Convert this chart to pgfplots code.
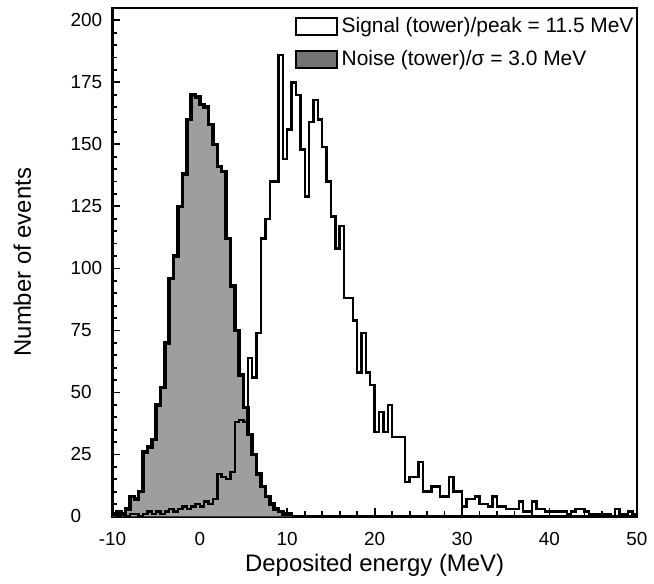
\documentclass[border=0pt]{standalone}
\usepackage{pgfplots}
\pgfplotsset{compat=1.18}
\usepackage{pgfplotstable}
\usepackage{fontspec}
\setmainfont{Liberation Sans}

% Noise histogram: left bin edge, count (bin width 0.5 MeV)
\pgfplotstableread{
x y
-10.0 0
-10.0 1
-9.5 2
-9.0 1
-8.5 3
-8.0 8
-7.5 7
-7.0 10
-6.5 26
-6.0 28
-5.5 31
-5.0 45
-4.5 52
-4.0 70
-3.5 96
-3.0 105
-2.5 125
-2.0 138
-1.5 160
-1.0 170
-0.5 169
0.0 166
0.5 165
1.0 158
1.5 150
2.0 141
2.5 139
3.0 112
3.5 93
4.0 75
4.5 57
5.0 44
5.5 33
6.0 25
6.5 17
7.0 12
7.5 8
8.0 5
8.5 3
9.0 2
9.5 1
10.0 1
10.5 0
}\noisetable

% Signal histogram: left bin edge, count (bin width 0.5 MeV)
\pgfplotstableread{
x y
-10.0 0
-10.0 1
-9.5 0
-9.0 1
-8.5 0
-8.0 1
-7.5 1
-7.0 0
-6.5 1
-6.0 2
-5.5 1
-5.0 2
-4.5 1
-4.0 2
-3.5 3
-3.0 2
-2.5 3
-2.0 4
-1.5 3
-1.0 4
-0.5 5
0.0 4
0.5 6
1.0 5
1.5 7
2.0 17
2.5 16
3.0 15
3.5 18
4.0 38
4.5 39
5.0 38
5.5 64
6.0 56
6.5 74
7.0 112
7.5 120
8.0 135
8.5 135
9.0 186
9.5 144
10.0 156
10.5 175
11.0 170
11.5 148
12.0 129
12.5 159
13.0 168
13.5 160
14.0 149
14.5 135
15.0 121
15.5 108
16.0 117
16.5 88
17.0 88
17.5 79
18.0 58
18.5 74
19.0 58
19.5 53
20.0 34
20.5 42
21.0 34
21.5 45
22.0 32
22.5 32
23.0 32
23.5 14
24.0 16
24.5 16
25.0 22
25.5 10
26.0 10
26.5 12
27.0 12
27.5 8
28.0 8
28.5 16
29.0 10
29.5 10
30.0 4
30.5 7
31.0 7
31.5 8
32.0 5
32.5 5
33.0 4
33.5 8
34.0 4
34.5 4
35.0 3
35.5 3
36.0 3
36.5 6
37.0 2
37.5 2
38.0 6
38.5 3
39.0 3
39.5 2
40.0 2
40.5 2
41.0 2
41.5 2
42.0 1
42.5 2
43.0 3
43.5 3
44.0 2
44.5 1
45.0 1
45.5 1
46.0 1
46.5 1
47.0 0
47.5 3
48.0 1
48.5 1
49.0 2
49.5 1
50.0 0
}\signaltable

\begin{document}
\begin{tikzpicture}
\begin{axis}[
  name=ax,
  scale only axis,
  width=263.5pt, height=255.5pt,
  xmin=-10, xmax=50,
  ymin=0, ymax=205,
  xtick={-10,0,...,50},
  ytick={0,25,...,200},
  minor x tick num=4,
  minor y tick num=4,
  xtick pos=left, ytick pos=left,
  tick align=inside,
  major tick length=4pt,
  minor tick length=2.5pt,
  every tick/.style={black, line width=0.9pt},
  axis line style={line width=1.2pt},
  /pgf/number format/assume math mode=true,
  yticklabel style={font=\fontsize{9.5}{11}\selectfont, text width=16pt, align=left, xshift=-1.5pt},
  xticklabel style={font=\fontsize{9.5}{11}\selectfont, yshift=-4.5pt},
  xlabel={Deposited energy (MeV)},
  ylabel={Number of events},
  label style={font=\fontsize{12}{14}\selectfont},
  ylabel shift=13pt,
  xlabel shift=-2.5pt,
  clip=false,
  legend image code/.code={\draw[#1] (0pt,-4.3pt) rectangle (20.5pt,4.3pt);},
  legend style={at={(rel axis cs:1,1)}, anchor=north east, xshift=1.5pt, yshift=-1pt,
    draw=none, fill=none,
    inner xsep=1pt, inner ysep=1.5pt, row sep=3.5pt, font=\fontsize{10.5}{12}\selectfont,
    /tikz/every even column/.append style={column sep=0pt}},
  legend cell align=left,
]
\addlegendimage{draw=black, fill=white, line width=1pt}
\addlegendentry{Signal (tower)/peak = 11.5 MeV}
\addlegendimage{draw=black, fill=black!55, line width=1pt}
\addlegendentry{Noise (tower)/σ = 3.0 MeV}

\addplot[forget plot, const plot mark left, draw=black, fill=black!38, line width=1.8pt, line join=miter]
  table[x=x, y=y] {\noisetable};
\addplot[forget plot, const plot mark left, draw=black, line width=1.2pt, line join=miter]
  table[x=x, y=y] {\signaltable};
\end{axis}
\path (ax.north east) ++(7pt,4pt);
\path (ax.south west) ++(-56.5pt,-31pt);
\end{tikzpicture}
\end{document}
